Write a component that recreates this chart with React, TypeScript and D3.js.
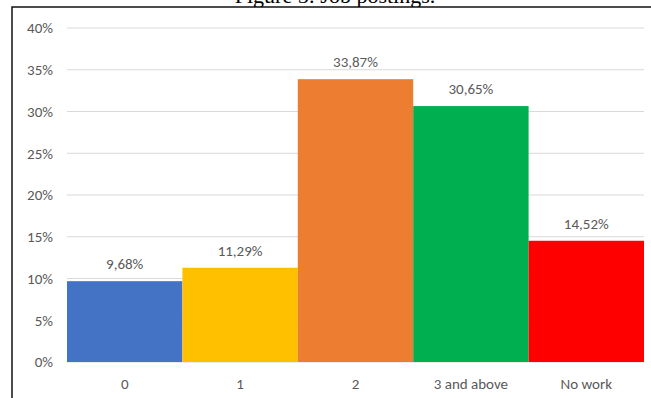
import React from "react";
import * as d3 from "d3";

const categories = ["0", "1", "2", "3 and above", "No work"];
const shares = [9.68, 11.29, 33.87, 30.65, 14.52];
const barColors = ["#4472C4", "#FFC000", "#ED7D31", "#00B050", "#FF0000"];
const yTicks = [0, 5, 10, 15, 20, 25, 30, 35, 40];
const title = "Figure 5: Job postings.";

const W = 651;
const H = 398;
const font = "Carlito, Calibri, 'Liberation Sans', Lato, sans-serif";
const fs = 15;

export default function App() {
  const x = d3.scaleBand<string>().domain(categories).range([67, 644]).padding(0);
  const y = d3.scaleLinear().domain([0, 40]).range([362, 28]);
  const fmt = (v: number) => v.toFixed(2).replace(".", ",") + "%";

  return (
    <svg
      width={W}
      height={H}
      style={{ position: "absolute", left: 0, top: 0, background: "#fff" }}
    >
      <text
        x={335}
        y={3}
        textAnchor="middle"
        fontFamily="'Liberation Serif', 'Times New Roman', serif"
        fontSize={22}
        fill="#000"
      >
        {title}
      </text>
      <rect x={12} y={7} width={W + 20} height={H + 20} fill="#fff" stroke="#000" strokeWidth={1.4} />
      {yTicks.map((t) => (
        <g key={t}>
          <line x1={67} x2={644} y1={y(t)} y2={y(t)} stroke="#d9d9d9" strokeWidth={1} />
          <text
            x={53}
            y={y(t)}
            dy="0.35em"
            textAnchor="end"
            fontFamily={font}
            fontSize={fs}
            fill="#595959"
          >
            {t}%
          </text>
        </g>
      ))}
      {categories.map((c, i) => (
        <g key={c}>
          <rect
            x={x(c)!}
            y={y(shares[i])}
            width={x.bandwidth()}
            height={y(0) - y(shares[i])}
            fill={barColors[i]}
          />
          <text
            x={x(c)! + x.bandwidth() / 2}
            y={y(shares[i]) - 12}
            textAnchor="middle"
            fontFamily={font}
            fontSize={fs}
            fill="#595959"
          >
            {fmt(shares[i])}
          </text>
          <text
            x={x(c)! + x.bandwidth() / 2}
            y={389}
            textAnchor="middle"
            fontFamily={font}
            fontSize={fs}
            fill="#595959"
          >
            {c}
          </text>
        </g>
      ))}
    </svg>
  );
}
